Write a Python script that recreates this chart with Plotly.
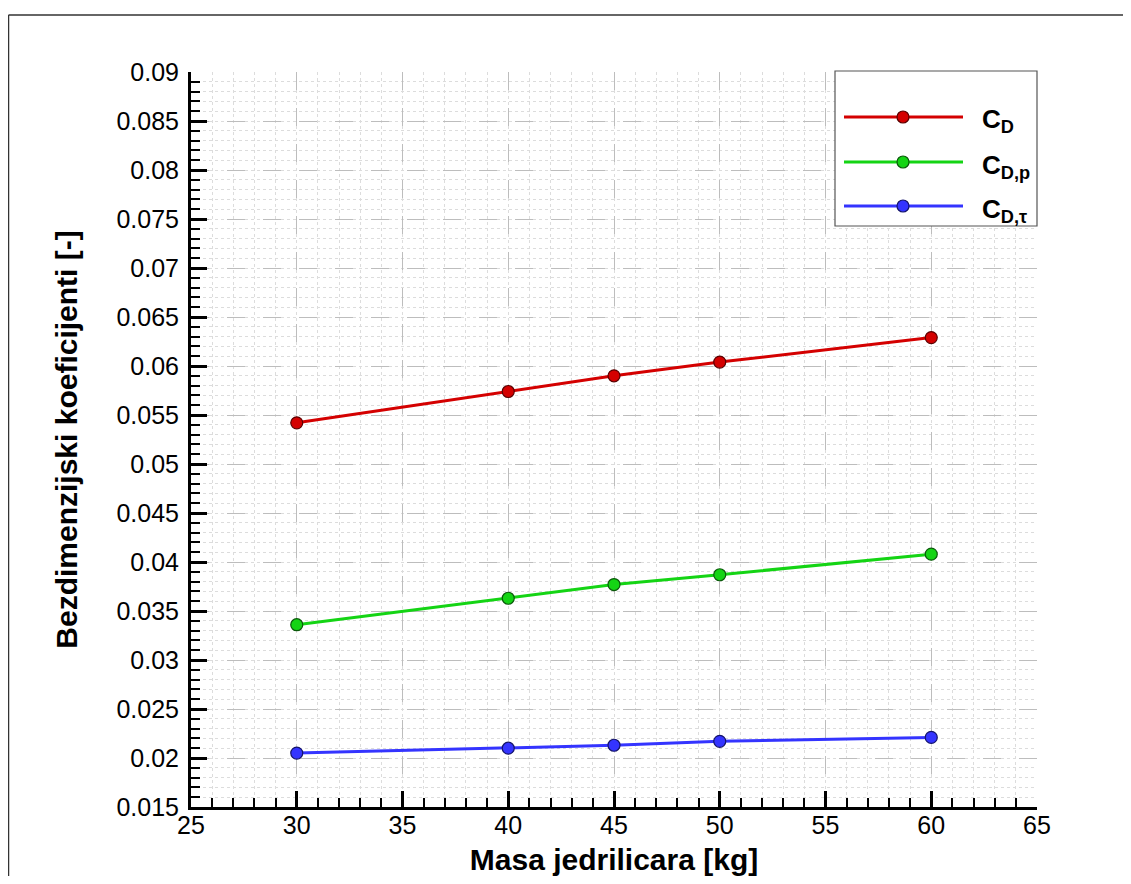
import plotly.graph_objects as go

# ---- data ----
masa = [30, 40, 45, 50, 60]
cd = [0.0542, 0.0574, 0.0590, 0.0604, 0.0629]
cd_p = [0.0336, 0.0363, 0.0377, 0.0387, 0.0408]
cd_tau = [0.0205, 0.0210, 0.0213, 0.0217, 0.0221]

series_names = ["<b>C<sub>D</sub></b>", "<b>C<sub>D,p</sub></b>", "<b>C<sub>D,τ</sub></b>"]
series_colors = ["#d40000", "#14d414", "#3434ff"]
marker_edges = ["#5a0000", "#0a5a0a", "#14146a"]

x_ticks = [25, 30, 35, 40, 45, 50, 55, 60, 65]
x_ticktext = ["25", "30", "35", "40", "45", "50", "55", "60", "65"]
y_ticks = [0.015, 0.02, 0.025, 0.03, 0.035, 0.04, 0.045, 0.05, 0.055,
           0.06, 0.065, 0.07, 0.075, 0.08, 0.085, 0.09]
y_ticktext = ["0.015", "0.02", "0.025", "0.03", "0.035", "0.04", "0.045", "0.05",
              "0.055", "0.06", "0.065", "0.07", "0.075", "0.08", "0.085", "0.09"]

OFF = 8  # page body margin
W, H = 1131 - 2 * OFF, 884 - 2 * OFF
L, R, T, B = 191 - OFF, 1037 - OFF, 72 - OFF, 807 - OFF  # plot area in figure pixels


def px(xp):  # page pixel -> paper
    return (xp - OFF - L) / (R - L)


def py(yp):
    return (B - (yp - OFF)) / (B - T)


fig = go.Figure()
for ys, name, col, edge in zip([cd, cd_p, cd_tau], series_names, series_colors, marker_edges):
    fig.add_trace(go.Scatter(
        x=masa, y=ys, name=name, mode="lines+markers",
        line=dict(color=col, width=3),
        marker=dict(size=12, color=col, line=dict(color=edge, width=1.2)),
        showlegend=False,
    ))

font_family = "Liberation Sans, Arial, sans-serif"

fig.update_layout(
    width=W, height=H,
    margin=dict(l=L, r=W - R, t=T, b=H - B, autoexpand=False),
    paper_bgcolor="white", plot_bgcolor="white",
    font=dict(family=font_family, color="black"),
    showlegend=False,
)

fig.update_xaxes(
    range=[25, 65], tickvals=x_ticks, ticktext=x_ticktext, automargin=False,
    showline=True, linecolor="black", linewidth=3, mirror=False,
    ticks="inside", ticklen=16, tickwidth=3, tickcolor="black",
    tickfont=dict(size=25), ticklabelstandoff=-6,
    showgrid=True, gridcolor="#bdbdbd", gridwidth=1.2, griddash="18px,18px",
    zeroline=False,
    minor=dict(dtick=1, ticks="inside", ticklen=9, tickwidth=1.5, tickcolor="black",
               showgrid=True, gridcolor="#dcdcdc", gridwidth=1, griddash="dot"),
    title=dict(text="<b>Masa jedrilicara [kg]</b>", font=dict(size=30), standoff=14),
)
fig.update_yaxes(
    range=[0.015, 0.09], tickvals=y_ticks, ticktext=y_ticktext, automargin=False,
    showline=True, linecolor="black", linewidth=3, mirror=False,
    ticks="inside", ticklen=16, tickwidth=3, tickcolor="black",
    tickfont=dict(size=25), ticklabelstandoff=4,
    showgrid=True, gridcolor="#bdbdbd", gridwidth=1.2, griddash="18px,18px",
    zeroline=False,
    minor=dict(dtick=0.001, ticks="inside", ticklen=9, tickwidth=1.5, tickcolor="black",
               showgrid=True, gridcolor="#dcdcdc", gridwidth=1, griddash="dot"),
    title=dict(text="<b>Bezdimenzijski koeficijenti [-]</b>", font=dict(size=30), standoff=30),
)

shapes = []
# outer frame (top and left edges)
shapes.append(dict(type="line", xref="paper", yref="paper",
                   x0=px(8.5), y0=py(15), x1=px(1131), y1=py(15),
                   line=dict(color="#333333", width=1.5), layer="above"))
shapes.append(dict(type="line", xref="paper", yref="paper",
                   x0=px(8.5), y0=py(15), x1=px(8.5), y1=py(884),
                   line=dict(color="#333333", width=1.5), layer="above"))
# legend box
shapes.append(dict(type="rect", xref="paper", yref="paper",
                   x0=px(835), y0=py(226), x1=px(1037), y1=py(71),
                   fillcolor="white", line=dict(color="#555555", width=1.2), layer="above"))
leg_y = [117, 162, 206]
annotations = []
for yy, name, col, edge in zip(leg_y, series_names, series_colors, marker_edges):
    shapes.append(dict(type="line", xref="paper", yref="paper",
                       x0=px(844), x1=px(963), y0=py(yy), y1=py(yy),
                       line=dict(color=col, width=3), layer="above"))
    shapes.append(dict(type="circle", xref="paper", yref="paper",
                       xsizemode="pixel", ysizemode="pixel",
                       xanchor=px(903), yanchor=py(yy),
                       x0=-6, x1=6, y0=-6, y1=6,
                       fillcolor=col, line=dict(color=edge, width=1.2), layer="above"))
    annotations.append(dict(xref="paper", yref="paper", x=px(980), y=py(yy + 4),
                            xanchor="left", yanchor="middle", showarrow=False,
                            text=name, font=dict(size=26, color="black", family=font_family)))

fig.update_layout(shapes=shapes, annotations=annotations)

fig.write_html("out.html")
